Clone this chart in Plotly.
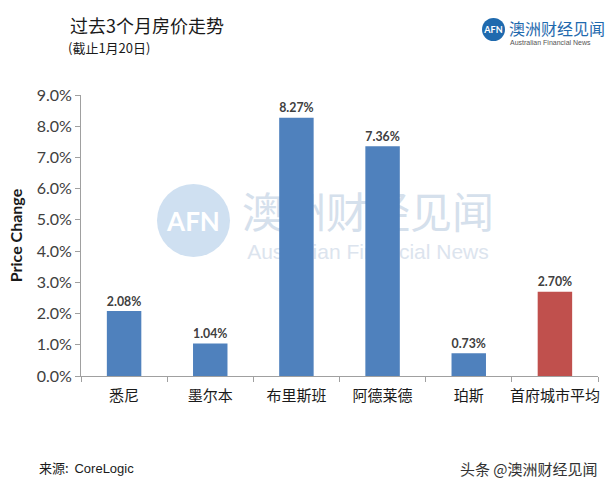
import plotly.graph_objects as go

categories = ["悉尼", "墨尔本", "布里斯班", "阿德莱德", "珀斯", "首府城市平均"]
values = [2.08, 1.04, 8.27, 7.36, 0.73, 2.70]
colors = ["#4F81BD", "#4F81BD", "#4F81BD", "#4F81BD", "#4F81BD", "#C0504D"]
tick_vals = [0, 1, 2, 3, 4, 5, 6, 7, 8, 9]
tick_text = [f"{v:.1f}%" for v in tick_vals]

CJK = "Noto Sans CJK SC"
LAT = "Lato, Open Sans, sans-serif"

fig = go.Figure()
fig.add_trace(go.Bar(
    x=categories, y=values,
    marker=dict(color=colors, line=dict(width=0)),
    width=0.4,
    text=[f"{v:.2f}%" for v in values],
    textposition="outside",
    textfont=dict(family=LAT, size=16, color="#404040"),
    texttemplate="<b>%{text}</b>",
    cliponaxis=False,
))

fig.update_layout(
    width=612, height=495,
    margin=dict(l=81, r=14, t=95, b=119, autoexpand=False),
    paper_bgcolor="white", plot_bgcolor="rgba(0,0,0,0)",
    showlegend=False,
    bargap=0.6,
    xaxis=dict(
        type="category", tickangle=0, automargin=False,
        showline=True, linecolor="#A0A0A0", linewidth=1,
        ticks="outside", tickson="boundaries", ticklen=5, tickcolor="#A0A0A0",
        tickfont=dict(family=CJK, size=15, color="#1a1a1a"),
        ticklabelstandoff=6,
        showgrid=False, zeroline=False,
    ),
    yaxis=dict(
        range=[0, 9], tickvals=tick_vals, ticktext=tick_text, automargin=False,
        showline=True, linecolor="#A0A0A0", linewidth=1,
        ticks="outside", ticklen=5, tickcolor="#A0A0A0",
        tickfont=dict(family=LAT, size=16, color="#404040"),
        showgrid=False, zeroline=False,
        title=dict(text="<b>Price Change</b>", font=dict(family=LAT, size=16, color="#1a1a1a"), standoff=10),
    ),
)

# watermark (below bars)
fig.add_shape(type="circle", xref="paper", yref="paper", layer="below",
              x0=(157-81)/517, x1=(230-81)/517, y0=(376-257)/281, y1=(376-184)/281,
              fillcolor="#CFE0F1", line=dict(width=0),
              label=dict(text="<b>AFN</b>", font=dict(family=LAT, size=26, color="white")))
fig.add_shape(type="rect", xref="paper", yref="paper", layer="below",
              x0=(236-81)/517, x1=(500-81)/517, y0=(376-236)/281, y1=(376-196)/281,
              fillcolor="rgba(0,0,0,0)", line=dict(width=0),
              label=dict(text="澳洲财经见闻", font=dict(family=CJK, size=42, color="#D5E0EC")))
fig.add_shape(type="rect", xref="paper", yref="paper", layer="below",
              x0=(236-81)/517, x1=(500-81)/517, y0=(376-260)/281, y1=(376-238)/281,
              fillcolor="rgba(0,0,0,0)", line=dict(width=0),
              label=dict(text="Australian Financial News", font=dict(family="Liberation Sans", size=21, color="#DCE4EE")))

# header logo
fig.add_shape(type="circle", xref="paper", yref="paper",
              x0=(482-81)/517, x1=(505-81)/517, y0=(376-41)/281, y1=(376-18)/281,
              fillcolor="#1F6AAE", line=dict(width=0),
              label=dict(text="<b>AFN</b>", font=dict(family=LAT, size=9, color="white")))

annos = [
    dict(text="过去3个月房价走势", x=68, y=25, size=18, family=CJK, color="#1a1a1a", xanchor="left"),
    dict(text="(截止1月20日)", x=66, y=48, size=13, family=CJK, color="#1a1a1a", xanchor="left"),
    dict(text="澳洲财经见闻", x=507, y=28, size=16, family=CJK, color="#1F6AAE", xanchor="left"),
    dict(text="Australian Financial News", x=508, y=42, size=7, family="Liberation Sans", color="#555555", xanchor="left"),
    dict(text="来源:  <span style='font-family:Liberation Sans'>CoreLogic</span>", x=37, y=467, size=13, family=CJK, color="#1a1a1a", xanchor="left"),
    dict(text="头条 @澳洲财经见闻", x=600, y=468, size=15, family=CJK, color="#333333", xanchor="right"),
]
for a in annos:
    fig.add_annotation(
        text=a["text"], xref="paper", yref="paper",
        x=(a["x"]-81)/517, y=(376-a["y"])/281,
        xanchor=a["xanchor"], yanchor="middle", showarrow=False,
        font=dict(family=a["family"], size=a["size"], color=a["color"]),
    )

fig.write_html("out.html")
